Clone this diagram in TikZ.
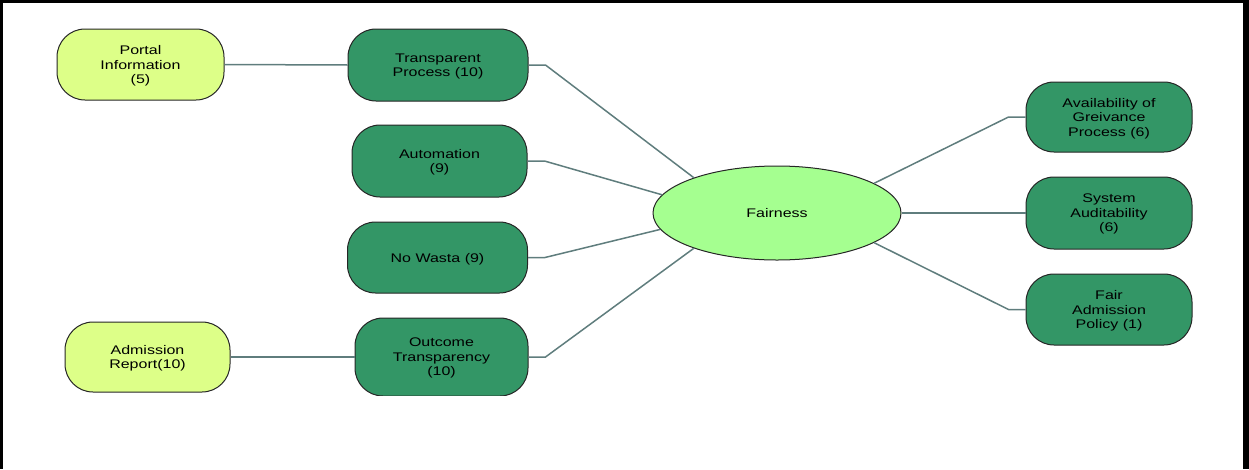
\documentclass[tikz,border=0pt]{standalone}
\usepackage{fontspec}
\setmainfont{Liberation Sans}[FakeStretch=1.28]
\usetikzlibrary{shapes.geometric}

\definecolor{leafgreen}{RGB}{51,150,102}
\definecolor{leafyellow}{RGB}{221,255,136}
\definecolor{hubgreen}{RGB}{165,255,144}
\definecolor{linkgray}{RGB}{95,125,125}

\begin{document}
\begin{tikzpicture}[x=1pt,y=-1pt,
  box/.style={draw=black!85, line width=1pt, rounded corners=28pt,
    align=center, inner sep=0pt, minimum height=71pt, text depth=-5pt,
    font=\fontsize{12.5}{14.5}\selectfont},
  topic/.style={box, fill=leafgreen},
  detail/.style={box, fill=leafyellow},
  hub/.style={ellipse, draw=black!85, line width=1pt, fill=hubgreen,
    inner sep=0pt, minimum width=248pt, minimum height=94pt,
    font=\fontsize{12.5}{14.5}\selectfont},
  link/.style={draw=linkgray, line width=1.5pt}]

\useasboundingbox (0,0) rectangle (1249,469);
% frame
\fill[black] (0,0) rectangle (3,469);
\fill[black] (0,0) rectangle (1249,3);
\fill[black] (1243,0) rectangle (1249,469);

% left branches
\node[detail, minimum width=167pt] (portal) at (140.5,64.5) {Portal\\Information\\(5)};
\node[topic, minimum width=180pt, minimum height=72pt] (transp) at (438,65) {Transparent\\Process (10)};
\node[topic, minimum width=175pt, minimum height=72pt] (auto) at (439.5,161) {Automation\\(9)};
\node[topic, minimum width=180pt] (wasta) at (437.5,257.5) {No Wasta (9)};
\begin{scope}
  \clip (340,300) rectangle (540,395);
  \node[topic, minimum width=173pt, minimum height=78pt] (outcome) at (441.5,357) {Outcome\\Transparency\\(10)};
\end{scope}
\node[detail, minimum width=165pt, minimum height=70pt] (report) at (147.5,357) {Admission\\Report(10)};

% centre
\node[hub] (fair) at (777,213) {Fairness};

% right branches
\node[topic, minimum width=166pt, minimum height=70pt] (grv) at (1109,117) {Availability of\\Greivance\\Process (6)};
\node[topic, minimum width=166pt, minimum height=72pt] (audit) at (1109,213) {System\\Auditability\\(6)};
\node[topic, minimum width=166pt, minimum height=71pt] (policy) at (1109,309.5) {Fair\\Admission\\Policy (1)};

% connectors
\draw[link] (portal.east) -- (transp.west);
\draw[link] (report.east) -- (outcome.west);
\draw[link] (transp.east) -- ++(17,0) -- (fair.157);
\draw[link] (auto.east) -- ++(17,0) -- (fair.171);
\draw[link] (wasta.east) -- ++(17,0) -- (fair.188);
\draw[link] (outcome.east) -- ++(17,0) -- (fair.203);
\draw[link] (fair.17) -- ([xshift=-17pt]grv.west) -- (grv.west);
\draw[link] (fair.east) -- (audit.west);
\draw[link] (fair.-17) -- ([xshift=-17pt]policy.west) -- (policy.west);
\end{tikzpicture}
\end{document}
